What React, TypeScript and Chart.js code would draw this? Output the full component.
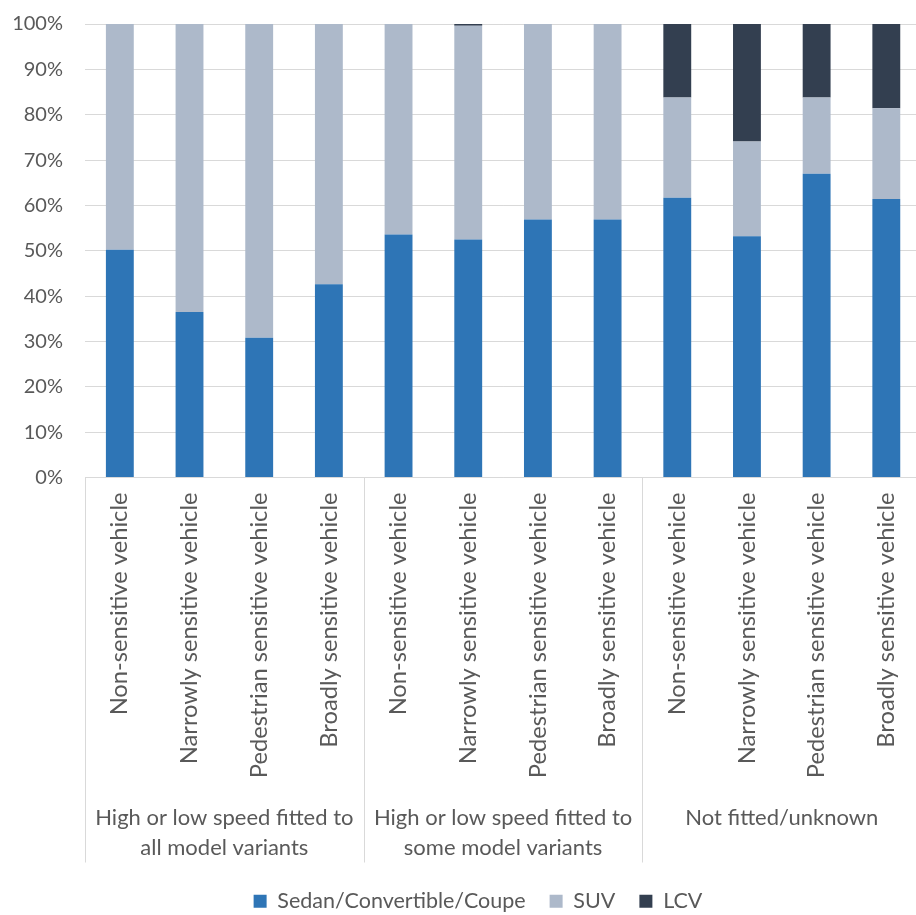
import React, { useEffect, useRef } from "react";
import { Chart, registerables } from "chart.js";

Chart.register(...registerables);

const categories = [
  "Non-sensitive vehicle",
  "Narrowly sensitive vehicle",
  "Pedestrian sensitive vehicle",
  "Broadly sensitive vehicle",
  "Non-sensitive vehicle",
  "Narrowly sensitive vehicle",
  "Pedestrian sensitive vehicle",
  "Broadly sensitive vehicle",
  "Non-sensitive vehicle",
  "Narrowly sensitive vehicle",
  "Pedestrian sensitive vehicle",
  "Broadly sensitive vehicle",
];

const groupLabels = [
  ["High or low speed fitted to", "all model variants"],
  ["High or low speed fitted to", "some model variants"],
  ["Not fitted/unknown"],
];
const groupSizes = [4, 4, 4];

const sedan = [50.2, 36.5, 30.8, 42.6, 53.6, 52.5, 56.9, 56.9, 61.7, 53.2, 67.0, 61.4];
const suv = [49.8, 63.5, 69.2, 57.4, 46.4, 47.1, 43.1, 43.1, 22.1, 20.9, 16.8, 20.0];
const lcv = [0, 0, 0, 0, 0, 0.4, 0, 0, 16.2, 25.9, 16.2, 18.6];

const seriesNames = ["Sedan/Convertible/Coupe", "SUV", "LCV"];
const seriesColors = ["#2E75B6", "#ADB9CA", "#333F50"];

const FONT = "Lato";
const TEXT = "#595959";
const GRID = "#D9D9D9";

const groupPlugin = {
  id: "groupLabels",
  afterLayout(chart: any) {
    const lg = chart.legend;
    if (lg) {
      lg.left += 16;
      lg.right += 16;
      lg.top += 7;
      lg.bottom += 7;
    }
  },
  afterDraw(chart: any) {
    const ctx = chart.ctx;
    const xs = chart.scales.x;
    const area = chart.chartArea;
    const half = (xs.getPixelForValue(1) - xs.getPixelForValue(0)) / 2;
    const sepBottom = area.bottom + 385;
    ctx.save();
    ctx.strokeStyle = GRID;
    ctx.lineWidth = 1;
    ctx.fillStyle = TEXT;
    ctx.font = `22px ${FONT}`;
    ctx.textAlign = "center";
    ctx.textBaseline = "middle";
    let start = 0;
    groupSizes.forEach((n, gi) => {
      const left = xs.getPixelForValue(start) - half;
      const right = xs.getPixelForValue(start + n - 1) + half;
      const lx = Math.round(left) + 0.5;
      ctx.beginPath();
      ctx.moveTo(lx, area.bottom);
      ctx.lineTo(lx, sepBottom);
      ctx.stroke();
      if (gi === groupSizes.length - 1) {
        const rx = Math.round(right) + 0.5;
        ctx.beginPath();
        ctx.moveTo(rx, area.bottom);
        ctx.lineTo(rx, sepBottom);
        ctx.stroke();
      }
      const cx = (left + right) / 2;
      groupLabels[gi].forEach((line, li) => {
        ctx.fillText(line, cx, area.bottom + 340 + li * 30);
      });
      start += n;
    });
    ctx.restore();
  },
};

export default function App() {
  const ref = useRef<HTMLCanvasElement>(null);
  useEffect(() => {
    document.body.style.margin = "0";
    document.body.style.overflow = "hidden";
    const data = [sedan, suv, lcv];
    const chart = new Chart(ref.current!, {
      type: "bar",
      data: {
        labels: categories,
        datasets: seriesNames.map((name, i) => ({
          label: name,
          data: data[i],
          backgroundColor: seriesColors[i],
          borderWidth: 0,
          categoryPercentage: 1,
          barPercentage: 0.4,
        })),
      },
      options: {
        animation: false,
        responsive: false,
        devicePixelRatio: 1,
        layout: { padding: { left: 0, right: 6, top: 24, bottom: 0 } },
        plugins: {
          tooltip: { enabled: false },
          legend: {
            position: "bottom",
            labels: {
              boxWidth: 13,
              boxHeight: 13,
              padding: 24,
              color: TEXT,
              font: { family: FONT, size: 21.5 },
            },
          },
        },
        scales: {
          x: {
            stacked: true,
            grid: { display: false, drawTicks: false },
            border: { display: false },
            ticks: {
              autoSkip: false,
              minRotation: 90,
              maxRotation: 90,
              padding: 15,
              color: TEXT,
              font: { family: FONT, size: 23.7 },
            },
            afterFit: (s: any) => {
              s.height = 382;
            },
          },
          y: {
            stacked: true,
            min: 0,
            max: 100,
            grid: { color: GRID, drawTicks: false },
            border: { display: false },
            ticks: {
              stepSize: 10,
              padding: 22,
              color: TEXT,
              font: { family: FONT, size: 20 },
              callback: (v: any) => `${v}%`,
            },
            afterFit: (s: any) => {
              s.width = 85;
              s.paddingTop = 0;
              s.paddingBottom = 0;
            },
          },
        },
      },
      plugins: [groupPlugin],
    });
    return () => chart.destroy();
  }, []);
  return (
    <div style={{ width: 916, height: 915, overflow: "hidden" }}>
      <canvas ref={ref} width={930} height={915} style={{ display: "block" }} />
    </div>
  );
}
